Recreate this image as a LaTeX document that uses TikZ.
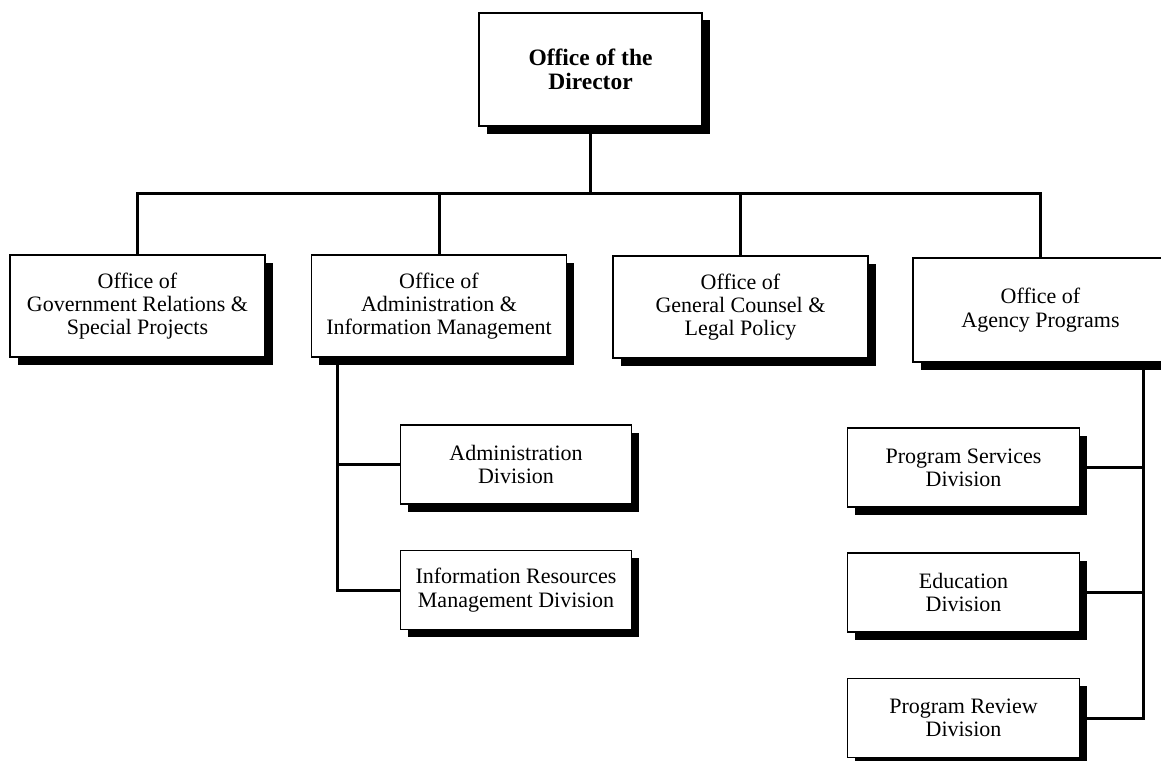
\documentclass[tikz,border=0pt]{standalone}
\usepackage{fontspec}
\setmainfont{Liberation Serif}
\usetikzlibrary{shadows}
\begin{document}
\begin{tikzpicture}[x=1pt,y=-1pt,
    unit/.style={draw, line width=1.3pt, fill=white, align=center, inner sep=0pt,
        font=\fontsize{22}{23.3}\selectfont,
        drop shadow={shadow xshift=7.5pt, shadow yshift=-7.5pt, fill=black, opacity=1}},
    office/.style={unit, minimum width=255pt, minimum height=102pt},
    division/.style={unit, minimum width=231.5pt, minimum height=79pt},
    link/.style={line width=3pt}]
    \useasboundingbox (0,0) rectangle (1161,760);
            \node[unit, minimum width=223pt, minimum height=113pt,
                font=\fontsize{23.5}{24.3}\selectfont\bfseries] (director) at (590.5,69.5) {Office of the\\Director};
            \node[office] (govrel) at (137.5,306) {Office of\\Government Relations \&\\Special Projects};
            \node[office] (adminfo) at (439,306) {Office of\\Administration \&\\Information Management};
            \node[office] (counsel) at (740.5,307) {Office of\\General Counsel \&\\Legal Policy};
            \node[office, minimum height=104pt] (agency) at (1040.5,310) {Office of\\Agency Programs};
                \node[division] (admdiv) at (516,464.5) {Administration\\Division};
                \node[division] (irmdiv) at (516,590) {Information Resources\\Management Division};
                \node[division] (psdiv) at (963.5,467.5) {Program Services\\Division};
                \node[division] (edudiv) at (963.5,592.5) {Education\\Division};
                \node[division] (prdiv) at (963.5,718) {Program Review\\Division};
            \coordinate (hub) at (590.5,193);
            \coordinate (ltrunk) at (337,0);
            \coordinate (rtrunk) at (1143,0);
            \draw[link] (director.south) -- (hub);
            \draw[link] (govrel.north) |- (hub) -| (agency.north);
            \draw[link] (adminfo.north) -- (adminfo.north |- hub);
            \draw[link] (counsel.north) -- (counsel.north |- hub);
                \draw[link] (adminfo.south -| ltrunk) |- (irmdiv.west);
                \draw[link] (admdiv.west) -- (admdiv.west -| ltrunk);
                \draw[link] (agency.south -| rtrunk) |- (prdiv.east);
                \draw[link] (psdiv.east) -- (psdiv.east -| rtrunk);
                \draw[link] (edudiv.east) -- (edudiv.east -| rtrunk);
\end{tikzpicture}
\end{document}
